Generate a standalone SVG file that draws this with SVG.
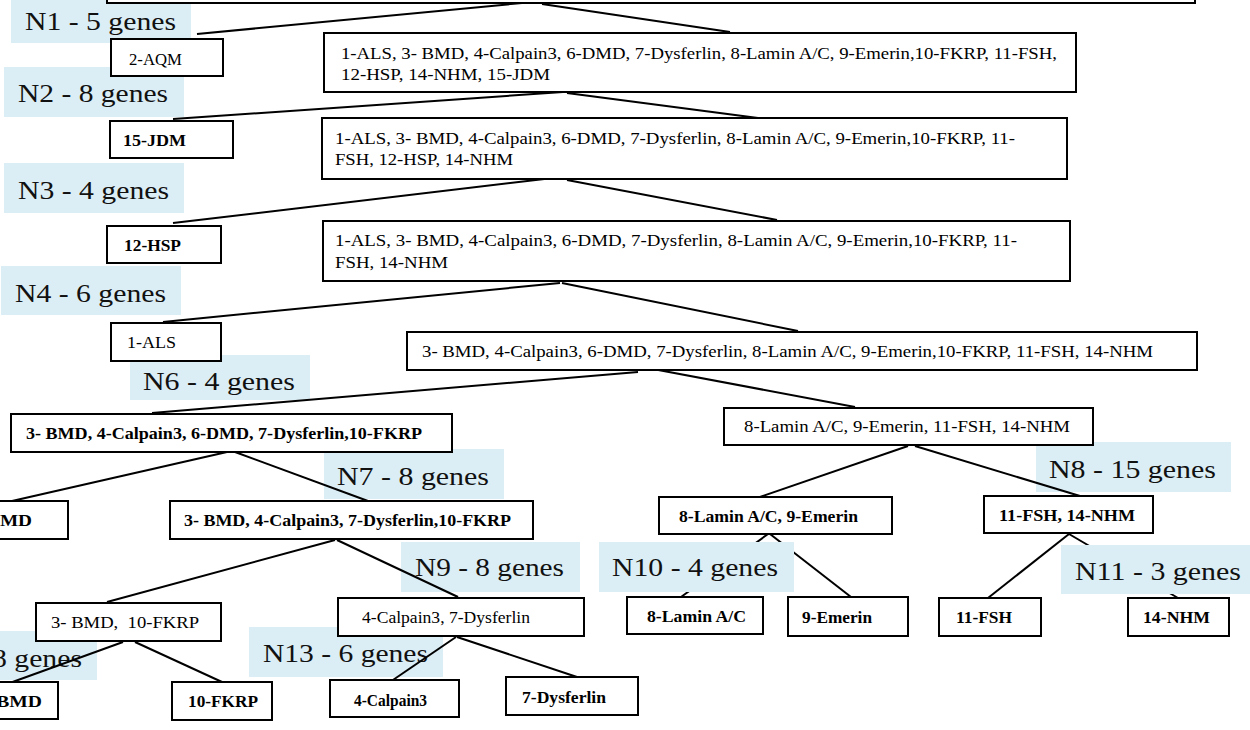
<svg xmlns="http://www.w3.org/2000/svg" width="1250" height="730" viewBox="0 0 1250 730">
<style>
.bg{fill:#dceef5}
.lbl{font-family:"Liberation Serif","Times New Roman",serif;font-size:25px;fill:#111}
.box{fill:#fff;stroke:#000;stroke-width:2}
.t{font-family:"Liberation Serif","Times New Roman",serif;font-size:16px;fill:#000}
.b{font-weight:bold}
.ln{stroke:#000;stroke-width:2;fill:none}
</style>
<rect width="1250" height="730" fill="#fff"/>
<g id="labels">
<g id="N1"><rect class="bg" x="11" y="-2" width="180" height="45"/><text class="lbl" x="25" y="30" textLength="151" lengthAdjust="spacingAndGlyphs">N1 - 5 genes</text></g>
<g id="N2"><rect class="bg" x="4" y="67" width="180" height="50"/><text class="lbl" x="18" y="102" textLength="150" lengthAdjust="spacingAndGlyphs">N2 - 8 genes</text></g>
<g id="N3"><rect class="bg" x="4" y="163" width="180" height="50"/><text class="lbl" x="18" y="199" textLength="151" lengthAdjust="spacingAndGlyphs">N3 - 4 genes</text></g>
<g id="N4"><rect class="bg" x="1" y="266" width="180" height="49"/><text class="lbl" x="15" y="302" textLength="151" lengthAdjust="spacingAndGlyphs">N4 - 6 genes</text></g>
<g id="N6"><rect class="bg" x="130" y="355" width="180" height="45"/><text class="lbl" x="143" y="390" textLength="152" lengthAdjust="spacingAndGlyphs">N6 - 4 genes</text></g>
<g id="N7"><rect class="bg" x="324" y="449" width="180" height="50"/><text class="lbl" x="337" y="485" textLength="152" lengthAdjust="spacingAndGlyphs">N7 - 8 genes</text></g>
<g id="N8"><rect class="bg" x="1036" y="442" width="195" height="50"/><text class="lbl" x="1049" y="478" textLength="167" lengthAdjust="spacingAndGlyphs">N8 - 15 genes</text></g>
<g id="N9"><rect class="bg" x="401" y="542" width="179" height="50"/><text class="lbl" x="415" y="576" textLength="149" lengthAdjust="spacingAndGlyphs">N9 - 8 genes</text></g>
<g id="N12"><rect class="bg" x="-5" y="631" width="102" height="49"/><text class="lbl" x="-8" y="667" textLength="90" lengthAdjust="spacingAndGlyphs">8 genes</text></g>
<g id="N13"><rect class="bg" x="249" y="627" width="194" height="50"/><text class="lbl" x="263" y="662" textLength="165" lengthAdjust="spacingAndGlyphs">N13 - 6 genes</text></g>
</g>
<g id="connectors">
<line class="ln" x1="522" y1="3" x2="197" y2="34"/>
<line class="ln" x1="542" y1="4" x2="730" y2="32"/>
<line class="ln" x1="563" y1="92" x2="173" y2="119"/>
<line class="ln" x1="567" y1="93" x2="758" y2="118"/>
<line class="ln" x1="553" y1="178" x2="173" y2="223"/>
<line class="ln" x1="567" y1="180" x2="777" y2="220"/>
<line class="ln" x1="560" y1="283" x2="163" y2="322"/>
<line class="ln" x1="562" y1="283" x2="798" y2="331"/>
<line class="ln" x1="638" y1="372" x2="152" y2="413"/>
<line class="ln" x1="653" y1="369" x2="855" y2="407"/>
<line class="ln" x1="227" y1="452" x2="12" y2="501"/>
<line class="ln" x1="235" y1="452" x2="368" y2="501"/>
<line class="ln" x1="335" y1="540" x2="107" y2="602"/>
<line class="ln" x1="337" y1="540" x2="458" y2="597"/>
<line class="ln" x1="123" y1="642" x2="7" y2="684"/>
<line class="ln" x1="135" y1="642" x2="222" y2="682"/>
<line class="ln" x1="456" y1="637" x2="390" y2="682"/>
<line class="ln" x1="457" y1="637" x2="577" y2="677"/>
<line class="ln" x1="908" y1="446" x2="760" y2="497"/>
<line class="ln" x1="915" y1="446" x2="1080" y2="496"/>
<line class="ln" x1="768" y1="534" x2="681" y2="597"/>
<line class="ln" x1="770" y1="534" x2="851" y2="597"/>
<line class="ln" x1="1069" y1="534" x2="988" y2="598"/>
<line class="ln" x1="1069" y1="534" x2="1178" y2="598"/>
</g>
<g id="labels-top">
<g id="N10"><rect class="bg" x="599" y="542" width="195" height="50"/><text class="lbl" x="612" y="576" textLength="166" lengthAdjust="spacingAndGlyphs">N10 - 4 genes</text></g>
<g id="N11"><rect class="bg" x="1061" y="545" width="189" height="49"/><text class="lbl" x="1075" y="580" textLength="166" lengthAdjust="spacingAndGlyphs">N11 - 3 genes</text></g>
</g>
<g id="nodes">
<g id="root"><rect class="box" x="107" y="-20" width="1088" height="23"/></g>
<g id="aqm"><rect class="box" x="111" y="39" width="112" height="37"/><text class="t" x="129" y="65" textLength="53" lengthAdjust="spacingAndGlyphs">2-AQM</text></g>
<g id="n1r"><rect class="box" x="324" y="33" width="752" height="59"/><text class="t" x="341" y="59" textLength="716" lengthAdjust="spacingAndGlyphs">1-ALS, 3- BMD, 4-Calpain3, 6-DMD, 7-Dysferlin, 8-Lamin A/C, 9-Emerin,10-FKRP, 11-FSH,</text><text class="t" x="341" y="80" textLength="209" lengthAdjust="spacingAndGlyphs">12-HSP, 14-NHM, 15-JDM</text></g>
<g id="jdm"><rect class="box" x="110" y="121" width="123" height="37"/><text class="t b" x="123" y="146" textLength="63" lengthAdjust="spacingAndGlyphs">15-JDM</text></g>
<g id="n2r"><rect class="box" x="322" y="118" width="745" height="61"/><text class="t" x="335" y="144" textLength="680" lengthAdjust="spacingAndGlyphs">1-ALS, 3- BMD, 4-Calpain3, 6-DMD, 7-Dysferlin, 8-Lamin A/C, 9-Emerin,10-FKRP, 11-</text><text class="t" x="335" y="165" textLength="178" lengthAdjust="spacingAndGlyphs">FSH, 12-HSP, 14-NHM</text></g>
<g id="hsp"><rect class="box" x="107" y="226" width="114" height="37"/><text class="t b" x="124" y="251" textLength="57" lengthAdjust="spacingAndGlyphs">12-HSP</text></g>
<g id="n3r"><rect class="box" x="323" y="221" width="747" height="60"/><text class="t" x="335" y="246" textLength="682" lengthAdjust="spacingAndGlyphs">1-ALS, 3- BMD, 4-Calpain3, 6-DMD, 7-Dysferlin, 8-Lamin A/C, 9-Emerin,10-FKRP, 11-</text><text class="t" x="335" y="268" textLength="113" lengthAdjust="spacingAndGlyphs">FSH, 14-NHM</text></g>
<g id="als"><rect class="box" x="111" y="323" width="110" height="38"/><text class="t" x="127" y="348" textLength="49" lengthAdjust="spacingAndGlyphs">1-ALS</text></g>
<g id="n4r"><rect class="box" x="407" y="332" width="790" height="38"/><text class="t" x="422" y="357" textLength="731" lengthAdjust="spacingAndGlyphs">3- BMD, 4-Calpain3, 6-DMD, 7-Dysferlin, 8-Lamin A/C, 9-Emerin,10-FKRP, 11-FSH, 14-NHM</text></g>
<g id="n6l"><rect class="box" x="11" y="414" width="441" height="38"/><text class="t b" x="26" y="439" textLength="396" lengthAdjust="spacingAndGlyphs">3- BMD, 4-Calpain3, 6-DMD, 7-Dysferlin,10-FKRP</text></g>
<g id="n6r"><rect class="box" x="724" y="408" width="369" height="37"/><text class="t" x="744" y="432" textLength="326" lengthAdjust="spacingAndGlyphs">8-Lamin A/C, 9-Emerin, 11-FSH, 14-NHM</text></g>
<g id="dmd"><rect class="box" x="-10" y="501" width="78" height="38"/><text class="t b" x="-30" y="526" textLength="62" lengthAdjust="spacingAndGlyphs">6-DMD</text></g>
<g id="n7r"><rect class="box" x="170" y="501" width="363" height="38"/><text class="t b" x="184" y="526" textLength="327" lengthAdjust="spacingAndGlyphs">3- BMD, 4-Calpain3, 7-Dysferlin,10-FKRP</text></g>
<g id="n8l"><rect class="box" x="659" y="497" width="233" height="37"/><text class="t b" x="679" y="522" textLength="179" lengthAdjust="spacingAndGlyphs">8-Lamin A/C, 9-Emerin</text></g>
<g id="n8r"><rect class="box" x="984" y="496" width="169" height="37"/><text class="t b" x="999" y="521" textLength="136" lengthAdjust="spacingAndGlyphs">11-FSH, 14-NHM</text></g>
<g id="n9l"><rect class="box" x="36" y="603" width="185" height="38"/><text class="t" x="51" y="628" textLength="148" lengthAdjust="spacingAndGlyphs" xml:space="preserve">3- BMD,  10-FKRP</text></g>
<g id="n9r"><rect class="box" x="338" y="598" width="246" height="38"/><text class="t" x="362" y="623" textLength="168" lengthAdjust="spacingAndGlyphs">4-Calpain3, 7-Dysferlin</text></g>
<g id="lamin"><rect class="box" x="627" y="597" width="136" height="37"/><text class="t b" x="647" y="622" textLength="99" lengthAdjust="spacingAndGlyphs">8-Lamin A/C</text></g>
<g id="emerin"><rect class="box" x="788" y="597" width="120" height="39"/><text class="t b" x="802" y="623" textLength="70" lengthAdjust="spacingAndGlyphs">9-Emerin</text></g>
<g id="fsh"><rect class="box" x="939" y="598" width="102" height="38"/><text class="t b" x="956" y="623" textLength="56" lengthAdjust="spacingAndGlyphs">11-FSH</text></g>
<g id="nhm"><rect class="box" x="1128" y="598" width="101" height="38"/><text class="t b" x="1143" y="623" textLength="67" lengthAdjust="spacingAndGlyphs">14-NHM</text></g>
<g id="bmd"><rect class="box" x="-10" y="682" width="68" height="37"/><text class="t b" x="-20" y="707" textLength="62" lengthAdjust="spacingAndGlyphs">3-BMD</text></g>
<g id="fkrp"><rect class="box" x="172" y="682" width="100" height="38"/><text class="t b" x="188" y="707" textLength="70" lengthAdjust="spacingAndGlyphs">10-FKRP</text></g>
<g id="calpain"><rect class="box" x="330" y="680" width="129" height="37"/><text class="t b" x="354" y="706" textLength="73" lengthAdjust="spacingAndGlyphs">4-Calpain3</text></g>
<g id="dysferlin"><rect class="box" x="506" y="677" width="132" height="38"/><text class="t b" x="522" y="703" textLength="84" lengthAdjust="spacingAndGlyphs">7-Dysferlin</text></g>
</g>
</svg>
